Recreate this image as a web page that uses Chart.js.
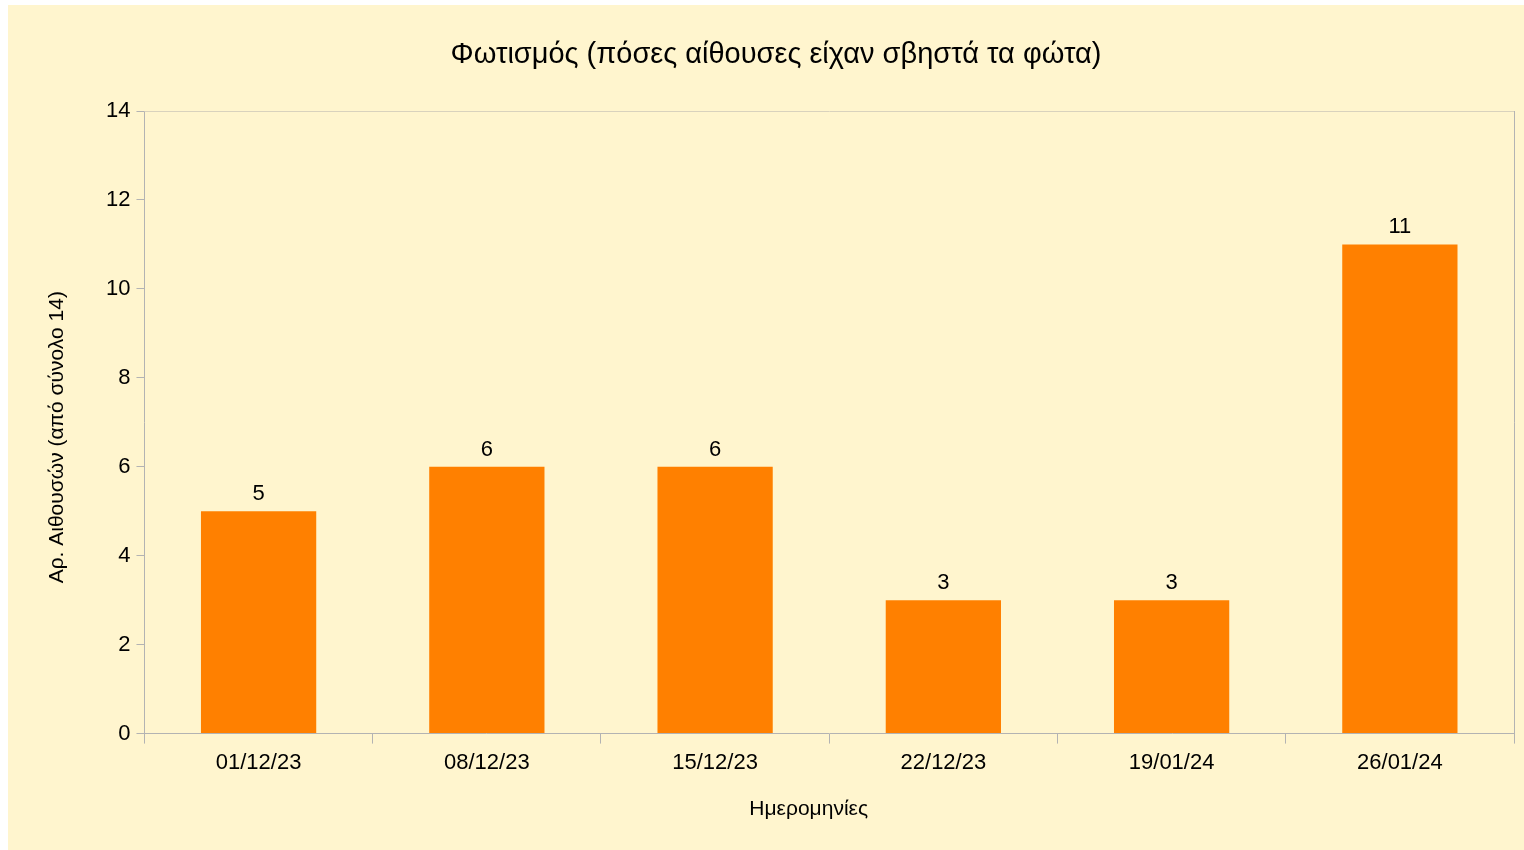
<!DOCTYPE html>
<html>
<head>
<meta charset="utf-8">
<script src="https://cdn.jsdelivr.net/npm/chart.js@4"></script>
<style>
  body { margin: 0; background: #ffffff; }
  #wrap { position: absolute; left: 8px; top: 5px; width: 1516px; height: 845px; background: #fff5ce; }
</style>
</head>
<body>
<div id="wrap"><canvas id="graph"></canvas></div>
<script>
const dates = ["01/12/23", "08/12/23", "15/12/23", "22/12/23", "19/01/24", "26/01/24"];
const roomsOff = [5, 6, 6, 3, 3, 11];
const yTicks = [0, 2, 4, 6, 8, 10, 12, 14];

const chartTitle = "Φωτισμός (πόσες αίθουσες είχαν σβηστά τα φώτα)";
const xTitle = "Ημερομηνίες";
const yTitle = "Αρ. Αιθουσών (από σύνολο 14)";

const axisGray = "#b3b3b3";
const font = "'Liberation Sans', Arial, sans-serif";

// labels above bars, top/right frame of the plot, titles
const barLabels = {
    id: "barLabels",
    afterDatasetsDraw(chart) {
        const ctx = chart.ctx;
        const area = chart.chartArea;
        ctx.save();
        ctx.strokeStyle = "#d9d2bd";
        ctx.lineWidth = 1;
        ctx.beginPath();
        ctx.moveTo(area.left, area.top + 0.5);
        ctx.lineTo(area.right + 0.5, area.top + 0.5);
        ctx.stroke();
        ctx.strokeStyle = axisGray;
        ctx.beginPath();
        ctx.moveTo(area.right + 0.5, area.top);
        ctx.lineTo(area.right + 0.5, area.bottom);
        ctx.stroke();

        ctx.fillStyle = "#000";
        ctx.font = "22px " + font;
        ctx.textAlign = "center";
        ctx.textBaseline = "bottom";
        chart.getDatasetMeta(0).data.forEach((bar, i) => {
            ctx.fillText(roomsOff[i], bar.x, bar.y - 6);
        });

        // titles, placed like the LibreOffice original (not exactly on plot centre)
        ctx.textBaseline = "middle";
        ctx.font = "29px " + font;
        ctx.fillText(chartTitle, chart.width / 2 + 10, 50);
        ctx.font = "21px " + font;
        ctx.fillText(xTitle, area.left + area.width * 0.485, area.bottom + 76);
        ctx.translate(area.left - 87, area.top + area.height * 0.524);
        ctx.rotate(-Math.PI / 2);
        ctx.fillText(yTitle, 0, 0);
        ctx.restore();
    }
};

const chart = new Chart(document.getElementById("graph"), {
    type: "bar",
    data: {
        labels: dates,
        datasets: [{
            label: "Αίθουσες",
            data: roomsOff,
            backgroundColor: "#ff8000",
            categoryPercentage: 0.505,
            barPercentage: 1
        }]
    },
    options: {
        responsive: true,
        maintainAspectRatio: false,
        animation: false,
        layout: { padding: { left: 92, right: 10, top: 106, bottom: 68 } },
        plugins: {
            legend: { display: false },
            tooltip: { enabled: false },
            title: { display: false }
        },
        scales: {
            x: {
                grid: {
                    offset: true,
                    drawOnChartArea: false,
                    color: axisGray,
                    tickLength: 10
                },
                border: { color: axisGray },
                ticks: { color: "#000", font: { family: font, size: 22 }, padding: 6, maxRotation: 0 }
            },
            y: {
                min: 0,
                max: 14,
                afterBuildTicks(scale) {
                    scale.ticks = yTicks.map(v => ({ value: v }));
                },
                grid: {
                    drawOnChartArea: false,
                    color: axisGray,
                    tickLength: 8
                },
                border: { color: axisGray },
                ticks: { color: "#000", font: { family: font, size: 22 }, padding: 6 }
            }
        }
    },
    plugins: [barLabels]
});
</script>
</body>
</html>
